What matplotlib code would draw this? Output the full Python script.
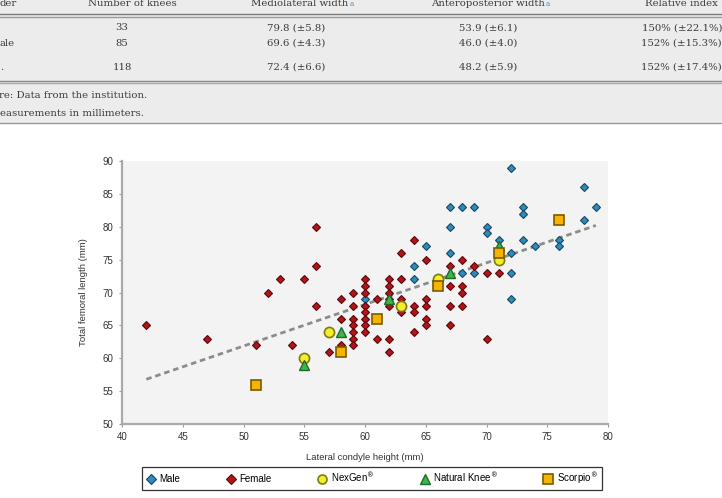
import matplotlib.pyplot as plt
from matplotlib.lines import Line2D
from matplotlib.patches import Rectangle

# ---- data ----
male_x = [72, 78, 79, 67, 68, 69, 73, 73, 67, 70, 70, 71, 73, 74, 76, 76, 78,
          65, 64, 67, 68, 69, 72, 72, 72, 60, 64]
male_y = [89, 86, 83, 83, 83, 83, 83, 82, 80, 80, 79, 78, 78, 77, 78, 77, 81,
          77, 74, 76, 73, 73, 76, 73, 69, 69, 72]

female_x = [42, 47, 51, 52, 53, 54, 55, 56, 56, 56, 57,
            58, 58, 58,
            59, 59, 59, 59, 59, 59, 59,
            60, 60, 60, 60, 60, 60, 60, 60,
            61, 61,
            62, 62, 62, 62, 62, 62, 62,
            63, 63, 63, 63,
            64, 64, 64, 64,
            65, 65, 65, 65, 65,
            67, 67, 67, 67,
            68, 68, 68, 68,
            69, 70, 70, 71]
female_y = [65, 63, 62, 70, 72, 62, 72, 80, 74, 68, 61,
            69, 66, 62,
            70, 68, 66, 65, 64, 63, 62,
            72, 71, 70, 68, 67, 66, 65, 64,
            69, 63,
            72, 71, 70, 69, 68, 63, 61,
            76, 72, 69, 67,
            78, 68, 67, 64,
            75, 69, 68, 66, 65,
            74, 71, 68, 65,
            75, 71, 70, 68,
            74, 73, 63, 73]

nexgen_x = [55, 57, 63, 66, 71]
nexgen_y = [60, 64, 68, 72, 75]
natural_x = [55, 58, 62, 67, 71]
natural_y = [59, 64, 69, 73, 77]
scorpio_x = [51, 58, 61, 66, 71, 76]
scorpio_y = [56, 61, 66, 71, 76, 81]

trend_x = [42, 79]
trend_y = [56.8, 80.2]

x_ticks = [40, 45, 50, 55, 60, 65, 70, 75, 80]
y_ticks = [50, 55, 60, 65, 70, 75, 80, 85, 90]

# table fragment above the chart
col_centers = [122, 296, 488]
header = ["Number of knees", "Mediolateral width", "Anteroposterior width"]
header_centers = [132, 300, 488]
rows = [["33", "79.8 (±5.8)", "53.9 (±6.1)", "150% (±22.1%)"],
        ["85", "69.6 (±4.3)", "46.0 (±4.0)", "152% (±15.3%)"],
        ["118", "72.4 (±6.6)", "48.2 (±5.9)", "152% (±17.4%)"]]
row_left = ["", "ale", "."]
row_y = [28, 43, 67]

W, H = 722, 498


def fx(px):
    return px / W


def fy(py):
    return 1 - py / H


fig = plt.figure(figsize=(7.22, 4.98), dpi=100, facecolor='white')

# grey table area
fig.patches.append(Rectangle((0, fy(124)), 1, 124 / H, transform=fig.transFigure,
                             facecolor='#ececec', edgecolor='none', zorder=0))
for py, c in [(14.5, '#777777'), (17, '#999999'),
              (81, '#888888'), (83.5, '#aaaaaa'), (123.5, '#999999')]:
    fig.add_artist(Line2D([0, 1], [fy(py), fy(py)], transform=fig.transFigure,
                          color=c, lw=1.0))

serif = dict(family='DejaVu Serif', fontsize=7.3, color='#3a3a3a')
fig.text(fx(0), fy(3.5), "der", ha='left', va='center', **serif)
for txt, cx in zip(header, header_centers):
    t = fig.text(fx(cx), fy(3.5), txt, ha='center', va='center', **serif)
    if txt != "Number of knees":
        fig.canvas.draw()
        bb = t.get_window_extent()
        fig.text(bb.x1 / W + 0.001, fy(3.5), "a", ha='left', va='center',
                 family='DejaVu Serif', fontsize=5, color='#4a8ac0')
fig.text(fx(645), fy(3.5), "Relative index", ha='left', va='center', **serif)

for r, yy, lt in zip(rows, row_y, row_left):
    for txt, cx in zip(r[:3], col_centers):
        fig.text(fx(cx), fy(yy), txt, ha='center', va='center', **serif)
    fig.text(fx(722), fy(yy), r[3], ha='right', va='center', **serif)
    if lt:
        fig.text(fx(0), fy(yy), lt, ha='left', va='center', **serif)

fig.text(fx(-1), fy(95), "re: Data from the institution.", ha='left', va='center', **serif)
fig.text(fx(0), fy(113), "easurements in millimeters.", ha='left', va='center', **serif)

# ---- scatter chart ----
ax = fig.add_axes([fx(122), fy(424), (608 - 122) / W, (424 - 161) / H])
ax.set_facecolor('#f3f3f3')

ax.plot(trend_x, trend_y, color='#8c8c8c', lw=2.0, ls=(0, (2, 1.4)), zorder=1)

ax.plot(male_x, male_y, 'D', ms=4.2, color='#2b8cbe', mec='#1c4560', mew=0.8,
        label='Male', zorder=3)
ax.plot(female_x, female_y, 'D', ms=4.2, color='#b3141c', mec='#5a0a0a', mew=0.8,
        label='Female', zorder=3)
ax.plot(nexgen_x, nexgen_y, 'o', ms=7.3, color='#f4ee2a', mec='#7d7a12', mew=1.2,
        label='NexGen$^{®}$', zorder=4)
ax.plot(natural_x, natural_y, '^', ms=7, color='#3cb54a', mec='#1f6b2a', mew=1.0,
        label='Natural Knee$^{®}$', zorder=4)
ax.plot(scorpio_x, scorpio_y, 's', ms=7, color='#f6b400', mec='#7a5a00', mew=1.2,
        label='Scorpio$^{®}$', zorder=5)

ax.set_xlim(40, 80)
ax.set_ylim(50, 90)
ax.set_xticks(x_ticks)
ax.set_yticks(y_ticks)
ax.tick_params(labelsize=7, colors='#333333', length=2, width=0.8,
               color='#999999', pad=4)
for s in ['top', 'right']:
    ax.spines[s].set_visible(False)
for s in ['left', 'bottom']:
    ax.spines[s].set_color('#aaaaaa')
    ax.spines[s].set_linewidth(1.6)

ax.set_xlabel("Lateral condyle height (mm)", fontsize=6.8, color='#333333',
              family='Liberation Sans', labelpad=8)
ax.set_ylabel("Total femoral length (mm)", fontsize=6.8, color='#333333',
              family='Liberation Sans', labelpad=11)
for lab in ax.get_xticklabels() + ax.get_yticklabels():
    lab.set_family('Liberation Sans')

handles, labels = ax.get_legend_handles_labels()
leg = fig.legend(handles, labels, loc='center',
                 bbox_to_anchor=(fx(142), fy(490), (602 - 142) / W, (490 - 467) / H),
                 bbox_transform=fig.transFigure, ncol=5, mode='expand',
                 handlelength=1.0, handletextpad=0.4,
                 borderaxespad=0, fancybox=False, framealpha=1,
                 edgecolor='#333333', facecolor='white',
                 prop={'family': 'Liberation Sans', 'size': 7})
leg.get_frame().set_linewidth(0.9)
for h, size in zip(leg.legend_handles, [4.8, 4.8, 6.5, 6.5, 6.5]):
    h.set_markersize(size)

fig.savefig('out.png', dpi=100)
